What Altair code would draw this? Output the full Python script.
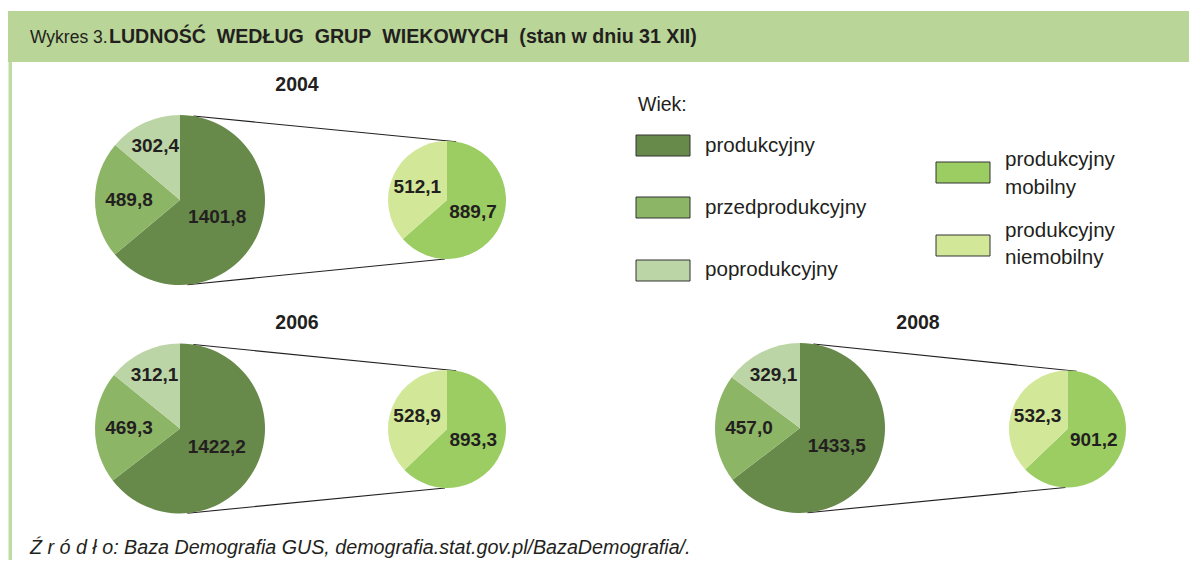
import math
import altair as alt
import pandas as pd

# ---------------- data ----------------
years = ["2004", "2006", "2008"]
produkcyjny = [1401.8, 1422.2, 1433.5]
przedprodukcyjny = [489.8, 469.3, 457.0]
poprodukcyjny = [302.4, 312.1, 329.1]
mobilny = [889.7, 893.3, 901.2]
niemobilny = [512.1, 528.9, 532.3]

groups = ["produkcyjny", "przedprodukcyjny", "poprodukcyjny",
          "produkcyjny mobilny", "produkcyjny niemobilny"]
colors = ["#678a4a", "#8db566", "#bcd5a6", "#9ccd63", "#d2e898"]
legend_labels = ["produkcyjny", "przedprodukcyjny", "poprodukcyjny",
                 "produkcyjny\nmobilny", "produkcyjny\nniemobilny"]

title_regular = "Wykres 3."
title_bold = "LUDNOŚĆ\u00a0 WEDŁUG\u00a0 GRUP\u00a0 WIEKOWYCH\u00a0 (stan w dniu 31 XII)"
legend_title = "Wiek:"
source_text = "Ź r ó d ł o: Baza Demografia GUS, demografia.stat.gov.pl/BazaDemografia/."

rows = []
for i, yr in enumerate(years):
    for order, (g, v) in enumerate(zip(groups[:3], [produkcyjny[i], przedprodukcyjny[i], poprodukcyjny[i]])):
        rows.append(dict(year=yr, pie="main", grp=g, value=v, order=order))
    for order, (g, v) in enumerate(zip(groups[3:], [mobilny[i], niemobilny[i]])):
        rows.append(dict(year=yr, pie="sub", grp=g, value=v, order=order))
df = pd.DataFrame(rows)
one = pd.DataFrame({"k": [0]})

# ---------------- layout ----------------
W, H = 1181, 552
FONT = "Liberation Sans, Arial, sans-serif"
INK = "#231f20"
BAND = "#b9d597"

color_enc = alt.Color("grp:N", scale=alt.Scale(domain=groups, range=colors), legend=None)

label_r = {"produkcyjny": 41, "przedprodukcyjny": 51, "poprodukcyjny": 59,
           "produkcyjny mobilny": 28.5, "produkcyjny niemobilny": 32.5}
lr_expr = " : ".join([f"datum.grp == '{g}' ? {r}" for g, r in label_r.items()]) + " : 40"

pies = {
    "2004": dict(main=(172, 192, 85), sub=(439, 192, 59), title=(289, 77)),
    "2006": dict(main=(172, 420.5, 85), sub=(439, 421, 59), title=(289, 315)),
    "2008": dict(main=(792, 420, 85), sub=(1059.5, 421, 58.5), title=(910, 315)),
}

layers = []

# header band and left border
layers.append(alt.Chart(one).mark_rect(color=BAND).encode(
    x=alt.value(0), x2=alt.value(W), y=alt.value(3), y2=alt.value(54)))
layers.append(alt.Chart(one).mark_rect(color="#bfdca2").encode(
    x=alt.value(0.5), x2=alt.value(4), y=alt.value(54), y2=alt.value(H)))

layers.append(alt.Chart(one).mark_text(font=FONT, fontSize=17.5, color=INK, align="left",
                                       baseline="middle").encode(
    x=alt.value(22), y=alt.value(29.5), text=alt.value(title_regular)))
layers.append(alt.Chart(one).mark_text(font=FONT, fontSize=19.6, fontWeight="bold", color=INK,
                                       align="left", baseline="middle").encode(
    x=alt.value(101), y=alt.value(29), text=alt.value(title_bold)))


def pt(cx, cy, r, deg):
    a = math.radians(deg)
    return cx + r * math.sin(a), cy - r * math.cos(a)


for yr in years:
    cfg = pies[yr]
    mx, my, mr = cfg["main"]
    sx, sy, sr = cfg["sub"]
    # connector lines
    for am, asub in [(9, 9), (175, 182)]:
        x1, y1 = pt(mx, my, mr, am)
        x2, y2 = pt(sx, sy, sr, asub)
        layers.append(alt.Chart(one).mark_rule(color=INK, strokeWidth=1.1).encode(
            x=alt.value(x1), y=alt.value(y1), x2=alt.value(x2), y2=alt.value(y2)))
    for pie in ["main", "sub"]:
        cx, cy, r = cfg[pie]
        base = alt.Chart(df).transform_filter(
            (alt.datum.year == yr) & (alt.datum.pie == pie)
        ).transform_joinaggregate(
            total="sum(value)"
        ).transform_window(
            cum="sum(value)", sort=[alt.SortField("order")]
        ).transform_calculate(
            start="2*PI*(datum.cum - datum.value)/datum.total",
            end="2*PI*datum.cum/datum.total",
        ).transform_calculate(
            mid="(datum.start + datum.end)/2",
            label="replace(format(datum.value, '.1f'), '.', ',')",
            lr=lr_expr,
        )
        layers.append(base.mark_arc(radius=r).encode(
            x=alt.value(cx), y=alt.value(cy),
            theta=alt.Theta("start:Q", scale=None),
            theta2=alt.Theta2("end:Q"),
            color=color_enc,
        ))
        layers.append(base.mark_text(font=FONT, fontSize=19, fontWeight="bold", color=INK,
                                     align="center", baseline="middle").encode(
            x=alt.value(cx), y=alt.value(cy),
            theta=alt.Theta("mid:Q", scale=None),
            radius=alt.Radius("lr:Q", scale=None),
            text="label:N",
        ))
    tx, ty = cfg["title"]
    layers.append(alt.Chart(one).mark_text(font=FONT, fontSize=19.5, fontWeight="bold", color=INK,
                                           align="center", baseline="middle").encode(
        x=alt.value(tx), y=alt.value(ty), text=alt.value(yr)))

# legend
layers.append(alt.Chart(one).mark_text(font=FONT, fontSize=19.5, color=INK, align="left",
                                       baseline="middle").encode(
    x=alt.value(630), y=alt.value(97), text=alt.value(legend_title)))
swatches = [
    (628, 127, 697, 138),
    (628, 189, 697, 200),
    (628, 252, 697, 262),
    (928, 154, 997, 152),
    (928, 227, 997, 222.5),
]
for g, lab, (sx0, sy0, tx, ty) in zip(groups, legend_labels, swatches):
    gdf = pd.DataFrame({"grp": [g], "label": [lab]})
    layers.append(alt.Chart(gdf).mark_rect(stroke="#333333", strokeWidth=1).encode(
        x=alt.value(sx0), x2=alt.value(sx0 + 54), y=alt.value(sy0), y2=alt.value(sy0 + 21),
        color=color_enc))
    layers.append(alt.Chart(gdf).mark_text(font=FONT, fontSize=20.6, color=INK, align="left",
                                           baseline="middle", lineBreak="\n",
                                           lineHeight=27.5).encode(
        x=alt.value(tx), y=alt.value(ty), text="label:N"))

# source
layers.append(alt.Chart(one).mark_text(font=FONT, fontSize=19.7, fontStyle="italic", color=INK,
                                       align="left", baseline="middle").encode(
    x=alt.value(22), y=alt.value(540), text=alt.value(source_text)))

chart = alt.layer(*layers).properties(
    width=W, height=H, padding=0,
    autosize=alt.AutoSizeParams(type="none"),
    background="white",
).configure_view(strokeWidth=0)

chart.save("out.html", embed_options={"renderer": "svg", "actions": False})
